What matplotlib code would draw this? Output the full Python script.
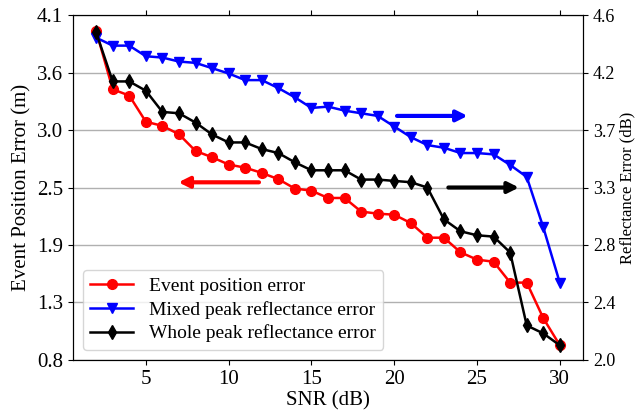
import matplotlib
matplotlib.use("Agg")
import matplotlib.pyplot as plt
import numpy as np

plt.rcParams['font.family'] = ['Liberation Serif', 'DejaVu Serif']

snr = list(range(2, 31))

# event position error (m), left axis
event_err = [3.95, 3.39, 3.33, 3.08, 3.04, 2.96, 2.80, 2.74, 2.67, 2.64,
             2.59, 2.53, 2.44, 2.42, 2.35, 2.35, 2.22, 2.20, 2.19, 2.11,
             1.97, 1.97, 1.83, 1.76, 1.74, 1.54, 1.54, 1.20, 0.94]

# mixed peak reflectance error (dB), right axis
mixed_err = [4.43, 4.37, 4.37, 4.29, 4.28, 4.25, 4.24, 4.20, 4.16, 4.11,
             4.11, 4.05, 3.98, 3.90, 3.91, 3.88, 3.86, 3.84, 3.76, 3.68,
             3.62, 3.60, 3.56, 3.56, 3.55, 3.47, 3.38, 3.00, 2.58]

# whole peak reflectance error (dB), right axis
whole_err = [4.47, 4.10, 4.10, 4.03, 3.87, 3.86, 3.79, 3.70, 3.64, 3.64,
             3.59, 3.56, 3.49, 3.43, 3.43, 3.43, 3.36, 3.36, 3.35, 3.34,
             3.30, 3.06, 2.97, 2.94, 2.93, 2.81, 2.26, 2.20, 2.11]

left_ticks = ['0.8', '1.3', '1.9', '2.5', '3.0', '3.6', '4.1']
right_ticks = ['2.0', '2.4', '2.8', '3.3', '3.7', '4.2', '4.6']

fig, ax = plt.subplots(figsize=(6.4, 4.2), dpi=100)
ax2 = ax.twinx()

l1, = ax.plot(snr, event_err, '-o', color='red', lw=1.8, ms=7, label='Event position error')
l2, = ax2.plot(snr, mixed_err, '-v', color='blue', lw=1.8, ms=7, label='Mixed peak reflectance error')
l3, = ax2.plot(snr, whole_err, '-d', color='black', lw=1.8, ms=7, label='Whole peak reflectance error')

ax.set_ylim(0.8, 4.1)
ax.set_yticks(np.linspace(0.8, 4.1, 7))
ax.set_yticklabels(left_ticks)
ax2.set_ylim(2.0, 4.6)
ax2.set_yticks(np.linspace(2.0, 4.6, 7))
ax2.set_yticklabels(right_ticks)
ax.set_xticks([5, 10, 15, 20, 25, 30])
ax.grid(axis='y', color='#b0b0b0', lw=1)
ax.tick_params(labelsize=15, top=True)
ax2.tick_params(labelsize=13)

ax.set_xlabel('SNR (dB)', fontsize=15, labelpad=2)
ax.set_ylabel('Event Position Error (m)', fontsize=15)
ax2.set_ylabel('Reflectance Error (dB)', fontsize=12, labelpad=3)

ax.annotate('', xy=(6.8, 2.5), xytext=(12, 2.5),
            arrowprops=dict(arrowstyle='-|>', color='red', lw=3, mutation_scale=16))
ax2.annotate('', xy=(24.6, 3.84), xytext=(20, 3.84),
             arrowprops=dict(arrowstyle='-|>', color='blue', lw=3, mutation_scale=16))
ax2.annotate('', xy=(27.7, 3.3), xytext=(23.1, 3.3),
             arrowprops=dict(arrowstyle='-|>', color='black', lw=3, mutation_scale=16))

ax.legend(handles=[l1, l2, l3], loc='lower left', fontsize=14,
          handlelength=2.2, borderpad=0.4, labelspacing=0.3)

fig.subplots_adjust(left=0.114, right=0.911, top=0.964, bottom=0.143)
fig.savefig('out.png', dpi=100)
